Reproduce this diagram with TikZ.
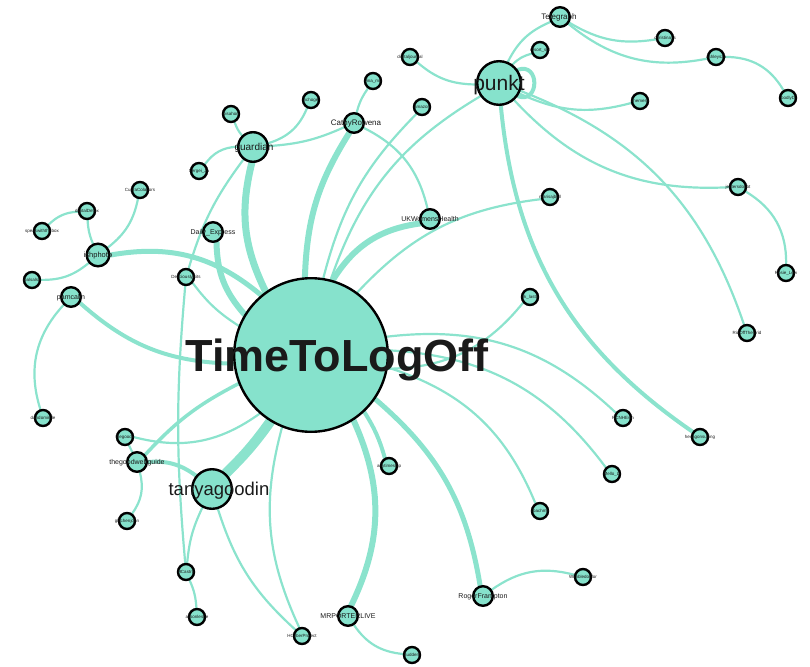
\documentclass[tikz,border=0pt]{standalone}
\usepackage{fontspec}
\setmainfont{Liberation Sans}
\usetikzlibrary{backgrounds}
\definecolor{nodefill}{HTML}{86E2CC}
\definecolor{linkcol}{HTML}{8BE3CD}
\definecolor{labelcol}{HTML}{1A1A1A}
\begin{document}
\begin{tikzpicture}[x=1pt,y=-1pt,
  vtx/.style={circle,draw=black,line width=2.4pt,fill=nodefill,inner sep=0pt,minimum size=#1},
  big/.style={vtx=19.6pt},
  sml/.style={vtx=16pt},
  lab/.style={anchor=base,inner sep=0pt,font=\fontsize{#1}{#1}\selectfont,text=labelcol},
  tiny/.style={lab=4.5},
  mid/.style={lab=7},
  link/.style={draw=linkcol,line width=#1,line cap=round},
  link/.default=2.2pt,
  sl/.style={bend left=#1},
  sr/.style={bend right=#1}]
\useasboundingbox (0,0) rectangle (810,666);

% ---- vertices ----
\node[vtx=153.6pt] (T) at (311,355) {};
\node[vtx=43.6pt] (punkt) at (499,83) {};
\node[vtx=39.6pt] (tanya) at (212,489) {};
\node[vtx=29.6pt] (guardian) at (253,147) {};
\node[vtx=22.6pt] (ishphoto) at (98,255) {};
\node[big] (pamcalin) at (71,297) {};
\node[big] (cathy) at (354,123) {};
\node[big] (ukwh) at (430,219) {};
\node[big] (telegraph) at (560,17) {};
\node[big] (express) at (213,232) {};
\node[big] (webguide) at (137,462) {};
\node[big] (mrporter) at (348,616) {};
\node[big] (roger) at (483,596) {};
\node[sml] (hcyber) at (302,636) {};
\node[sml] (christina) at (665,38) {};
\node[sml] (ashley) at (716,57) {};
\node[sml] (bodly) at (788,98) {};
\node[sml] (anemesa) at (640,101) {};
\node[sml] (resort) at (540,50) {};
\node[sml] (djournal) at (410,57) {};
\node[sml] (amazon) at (422,107) {};
\node[sml] (vina) at (373,81) {};
\node[sml] (nchoge) at (311,100) {};
\node[sml] (bisahon) at (231,114) {};
\node[sml] (sergei) at (199,171) {};
\node[sml] (cupra) at (140,190) {};
\node[sml] (detox) at (87,211) {};
\node[sml] (speak) at (42,231) {};
\node[sml] (jbalsa) at (32,280) {};
\node[sml] (delic) at (186,277) {};
\node[sml] (dandom) at (43,418) {};
\node[sml] (goodu) at (125,437) {};
\node[sml] (glitch) at (127,521) {};
\node[sml] (hcastro) at (186,572) {};
\node[sml] (alison) at (197,617) {};
\node[sml] (sudden) at (412,655) {};
\node[sml] (anytime) at (389,466) {};
\node[sml] (coach) at (540,511) {};
\node[sml] (mello) at (612,474) {};
\node[sml] (wimble) at (583,577) {};
\node[sml] (rcnh) at (623,418) {};
\node[sml] (hexa) at (700,437) {};
\node[sml] (ridoff) at (747,333) {};
\node[sml] (rosie) at (786,273) {};
\node[sml] (jenter) at (738,187) {};
\node[sml] (rik) at (530,297) {};
\node[sml] (marisa) at (550,197) {};

% ---- links, kept under the vertices ----
\begin{scope}[on background layer]
  \draw[link=10pt] (T) to[sl=5] (tanya);
  \draw[link=7pt] (guardian) to[sr=20] (T);
  \draw[link=6pt] (cathy) to[sr=15] (T);
  \draw[link=6pt] (ukwh) to[sr=25] (T);
  \draw[link=6pt] (express) to[sr=20] (T);
  \draw[link=5pt] (ishphoto) to[sl=25] (T);
  \draw[link=4pt] (pamcalin) to[sr=20] (T);
  \draw[link=6pt] (T) to[sl=25] (mrporter);
  \draw[link=5pt] (T) to[sl=20] (roger);
  \draw[link=4pt] (T) to[sl=8] (anytime);
  \draw[link=3.5pt] (webguide) to[sl=10] (T);
  \draw[link=4pt] (webguide) to[sl=20] (tanya);
  \draw[link] (T) to[sl=15] (amazon);
  \draw[link] (T) to[sl=20] (punkt);
  \draw[link] (T) to[sl=20] (marisa);
  \draw[link] (T) to[sr=25] (rik);
  \draw[link] (T) to[sl=25] (rcnh);
  \draw[link] (T) to[sl=25] (mello);
  \draw[link] (T) to[sl=25] (coach);
  \draw[link] (T) to[sr=20] (hcyber);
  \draw[link] (goodu) to[sr=25] (T);
  \draw[link] (delic) to[sr=10] (T);
  \draw[link] (punkt) to[sl=20] (telegraph);
  \draw[link] (punkt) to[sl=15] (resort);
  \draw[link] (djournal) to[sr=20] (punkt);
  \draw[link] (punkt) to[sr=20] (anemesa);
  \draw[link] (punkt) to[sr=25] (jenter);
  \draw[link] (punkt) to[sl=25] (ridoff);
  \draw[link=4pt] (punkt) to[sr=25] (hexa);
  \draw[link=4pt] (punkt.35) .. controls +(22,-8) and +(22,8) .. (punkt.-35);
  \draw[link] (telegraph) to[sr=20] (christina);
  \draw[link] (telegraph) to[sr=25] (ashley);
  \draw[link] (ashley) to[sl=30] (bodly);
  \draw[link] (jenter) to[sl=30] (rosie);
  \draw[link] (guardian) to[sl=10] (bisahon);
  \draw[link] (guardian) to[sr=25] (nchoge);
  \draw[link] (guardian) to[sr=25] (sergei);
  \draw[link] (guardian) to[sr=10] (cathy);
  \draw[link] (guardian) to[sr=10] (delic);
  \draw[link] (cathy) to[sl=10] (vina);
  \draw[link] (cathy) to[sl=25] (ukwh);
  \draw[link] (ishphoto) to[sl=10] (detox);
  \draw[link] (ishphoto) to[sr=20] (cupra);
  \draw[link] (ishphoto) to[sl=20] (jbalsa);
  \draw[link] (detox) to[sr=20] (speak);
  \draw[link] (pamcalin) to[sr=30] (dandom);
  \draw[link] (delic) to[sr=5] (hcastro);
  \draw[link] (tanya) to[sr=10] (hcastro);
  \draw[link] (hcastro) to[sl=10] (alison);
  \draw[link] (tanya) to[sr=15] (hcyber);
  \draw[link] (webguide) -- (goodu);
  \draw[link] (webguide) to[sl=25] (glitch);
  \draw[link] (mrporter) to[sr=25] (sudden);
  \draw[link] (roger) to[sl=25] (wimble);
\end{scope}

% ---- labels ----
\node[lab=45,font=\fontsize{45}{45}\selectfont\bfseries] (lT) at (337,371) {TimeToLogOff};
\node[lab=21] (lpunkt) at (499,90.4) {punkt};
\node[lab=18.5] (ltanya) at (219,495.5) {tanyagoodin};
\node[lab=10] (lguardian) at (254,150.5) {guardian};
\node[lab=7.5] (lishphoto) at (98,257.6) {ishphoto};
\node[mid] (lpamcalin) at (71,299.5) {pamcalin};
\node[lab=8] (lcathy) at (356,125.8) {CathyRowena};
\node[mid] (lukwh) at (430,221.5) {UKWomensHealth};
\node[lab=8] (ltelegraph) at (559,19.8) {Telegraph};
\node[mid] (lexpress) at (213,234.5) {Daily\_Express};
\node[mid] (lwebguide) at (137,464.5) {thegoodwebguide};
\node[mid] (lmrporter) at (348,618.5) {MRPORTERLIVE};
\node[mid] (lroger) at (483,598.5) {RogerFrampton};
\node[tiny] (lhcyber) at (302,637.6) {HCyberProject};
\node[tiny] (lchristina) at (665,39.6) {christina\_s};
\node[tiny] (lashley) at (716,58.6) {ashleyszo};
\node[tiny] (lbodly) at (788,99.6) {bodlyD};
\node[tiny] (lanemesa) at (640,102.6) {anemesa};
\node[tiny] (lresort) at (540,51.6) {resort\_sol};
\node[tiny] (ldjournal) at (410,58.6) {digitaljournal};
\node[tiny] (lamazon) at (422,108.6) {amazon};
\node[tiny] (lvina) at (373,82.6) {vina\_mo};
\node[tiny] (lnchoge) at (311,101.6) {nchoge};
\node[tiny] (lbisahon) at (231,115.6) {bisahon};
\node[tiny] (lsergei) at (199,172.6) {Sergei\_Ja};
\node[tiny] (lcupra) at (140,191.6) {CupraColabors};
\node[tiny] (ldetox) at (87,212.6) {digitalDetox};
\node[tiny] (lspeak) at (42,232.6) {speakwiththebox};
\node[tiny] (ljbalsa) at (32,281.6) {jbalsalsa};
\node[tiny] (ldelic) at (186,278.6) {DeliciouslyBits};
\node[tiny] (ldandom) at (43,419.6) {dandomintle};
\node[tiny] (lgoodu) at (125,438.6) {thegoodu};
\node[tiny] (lglitch) at (127,522.6) {glitchenjohn};
\node[tiny] (lhcastro) at (186,573.6) {HCastro};
\node[tiny] (lalison) at (197,618.6) {alisonleshe};
\node[tiny] (lsudden) at (412,656.6) {Suddent};
\node[tiny] (lanytime) at (389,467.6) {anytimesnip};
\node[tiny] (lcoach) at (540,512.6) {coachme};
\node[tiny] (lmello) at (612,475.6) {Mello\_Li};
\node[tiny] (lwimble) at (583,578.6) {Wimbledonfor};
\node[tiny] (lrcnh) at (623,419.6) {RCNHEvin};
\node[tiny] (lhexa) at (700,438.6) {hexagonsulting};
\node[tiny] (lridoff) at (747,334.6) {RidOffTheGrid};
\node[tiny] (lrosie) at (786,274.6) {Rosie\_Lew};
\node[tiny] (ljenter) at (738,188.6) {jentersdoubt};
\node[tiny] (lrik) at (530,298.6) {rik\_lasto};
\node[tiny] (lmarisa) at (550,198.6) {marisajbell};
\end{tikzpicture}
\end{document}
